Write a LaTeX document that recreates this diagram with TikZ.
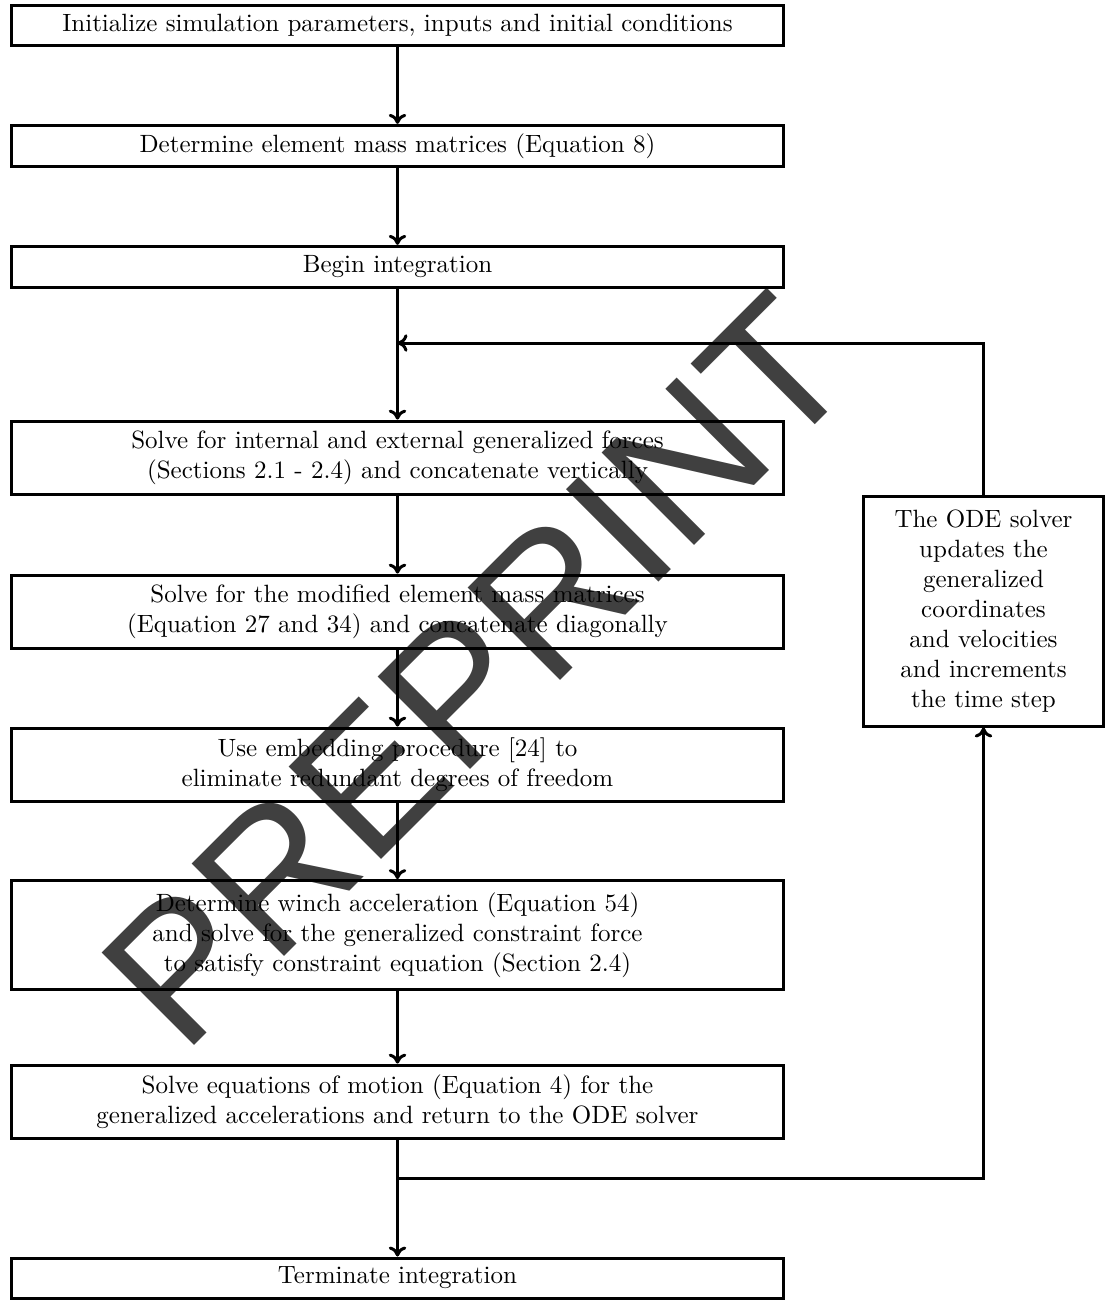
\documentclass[tikz,border=0pt]{standalone}
\usepackage{fontspec}
\newfontfamily\wmfont{Liberation Sans}
\usetikzlibrary{arrows.meta}
\begin{document}
\begin{tikzpicture}[x=0.4pt,y=-0.4pt,
  box/.style={draw,line width=1.2pt,minimum width=309pt,align=center,inner sep=2pt},
  conn/.style={line width=1.2pt,-{To[length=4pt,width=7pt]}},
  wm/.style={rotate=45,text=black!75,font=\wmfont\fontsize{76}{76}\selectfont}]
\useasboundingbox (0,0) rectangle (1108,1300);
\node[wm] (watermark) at (477,671) {PREPRINT};
\node[box,minimum height=16pt] (b1) at (397.5,25) {Initialize simulation parameters, inputs and initial conditions};
\node[box,minimum height=16.5pt] (b2) at (397.5,146) {Determine element mass matrices (Equation 8)};
\node[box,minimum height=16.5pt] (b3) at (397.5,267) {Begin integration};
\node[box,minimum height=29.5pt] (b4) at (397.5,458) {Solve for internal and external generalized forces\\(Sections 2.1 - 2.4) and concatenate vertically};
\node[box,minimum height=29.5pt] (b5) at (397.5,612) {Solve for the modified element mass matrices\\(Equation 27 and 34) and concatenate diagonally};
\node[box,minimum height=29.5pt] (b6) at (397.5,765) {Use embedding procedure [24] to\\eliminate redundant degrees of freedom};
\node[box,minimum height=43.5pt] (b7) at (397.5,935) {Determine winch acceleration (Equation 54)\\and solve for the generalized constraint force\\to satisfy constraint equation (Section 2.4)};
\node[box,minimum height=29.5pt] (b8) at (397.5,1102) {Solve equations of motion (Equation 4) for the\\generalized accelerations and return to the ODE solver};
\node[box,minimum height=16pt] (b9) at (397.5,1278) {Terminate integration};
\node[box,minimum width=96pt,minimum height=92pt] (rb) at (983.5,611) {The ODE solver\\updates the\\generalized\\coordinates\\and velocities\\and increments\\the time step};
\coordinate (m) at (397.5,343);
\coordinate (s) at (397.5,1178);
\draw[conn] (b1.south) -- (b2.north);
\draw[conn] (b2.south) -- (b3.north);
\draw[conn] (b3.south) -- (b4.north);
\draw[conn] (rb.north) |- (m);
\draw[conn] (b4.south) -- (b5.north);
\draw[conn] (b5.south) -- (b6.north);
\draw[conn] (b6.south) -- (b7.north);
\draw[conn] (b7.south) -- (b8.north);
\draw[conn] (b8.south) -- (b9.north);
\draw[conn] (s) -| (rb.south);
\end{tikzpicture}
\end{document}
